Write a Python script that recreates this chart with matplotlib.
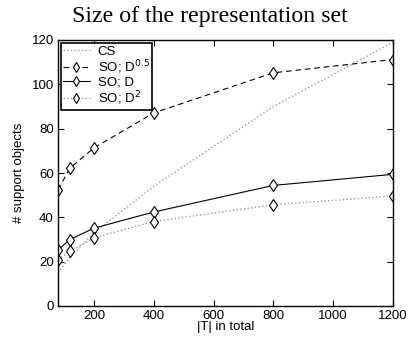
import matplotlib
matplotlib.use("Agg")
import matplotlib.pyplot as plt

x_total = [80, 120, 200, 400, 800, 1200]
cs = [15, 22, 33, 54, 90, 119]
so_d05 = [52.4, 62.2, 71.3, 87.1, 105.2, 111.2]
so_d1 = [25.3, 30.0, 35.1, 42.4, 54.4, 59.4]
so_d2 = [20.9, 24.7, 30.7, 38.1, 45.7, 49.6]
xticks = [200, 400, 600, 800, 1000, 1200]
yticks = [0, 20, 40, 60, 80, 100, 120]

plt.rcParams['font.family'] = ['Liberation Sans', 'DejaVu Sans']
fig = plt.figure(figsize=(4.16, 3.42), dpi=100)
ax = fig.add_axes([58/416, 36/342, (393-58)/416, (306-40)/342])

gray = '#999999'
mk = dict(marker='d', ms=6.5, mfc='white', mec='black', mew=0.8)
ax.plot(x_total, cs, linestyle=':', color=gray, lw=1.0, label='CS')
ax.plot(x_total, so_d05, linestyle=(0, (5, 3.5)), color='black', lw=0.8,
        label='SO; D$^{0.5}$', **mk)
ax.plot(x_total, so_d1, linestyle='-', color='black', lw=0.8,
        label='SO; D', **mk)
ax.plot(x_total, so_d2, linestyle=':', color=gray, lw=1.0,
        label='SO; D$^{2}$', **mk)

ax.set_xlim(80, 1200)
ax.set_ylim(0, 120)
ax.set_xticks(xticks)
ax.set_yticks(yticks)
ax.tick_params(direction='in', top=True, right=True, length=4, width=0.8,
               labelsize=9.5, pad=3)
for s in ax.spines.values():
    s.set_linewidth(1.0)

ax.set_xlabel('|T| in total', fontsize=9.5, labelpad=-1)
ax.set_ylabel('# support objects', fontsize=9.5, labelpad=5)
fig.text(210/416, 1 - 22/342, 'Size of the representation set', fontsize=17.2,
         family=['Liberation Serif', 'DejaVu Serif'], ha='center', va='baseline')

leg = ax.legend(loc='upper left', fontsize=9.5, fancybox=False, framealpha=1,
                edgecolor='black', borderaxespad=0.2, handlelength=2.0,
                labelspacing=0.05, borderpad=0.2, handletextpad=0.6,
                markerscale=0.75)
leg.get_frame().set_linewidth(1.2)

fig.savefig('out.png', dpi=100)
